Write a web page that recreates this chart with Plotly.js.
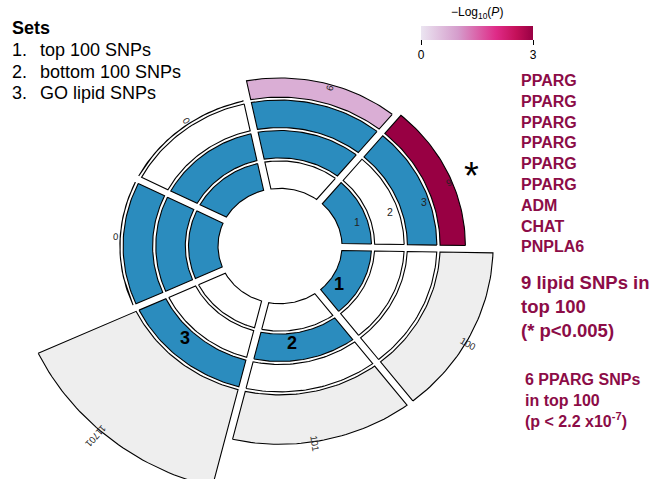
<!DOCTYPE html>
<html><head><meta charset="utf-8">
<script src="https://cdn.plot.ly/plotly-3.0.1.min.js"></script>
<style>html,body{margin:0;padding:0;background:#fff}#chart{width:652px;height:479px}</style>
</head><body><div id="chart"></div>
<script>
// ---------- DATA ----------
// Intersections, listed clockwise starting at 3 o'clock
const sectorNames = ["1", "2", "3", "1 & 2 & 3", "1 & 2", "2 & 3", "1 & 3"];
const inSet1 = [1, 0, 0, 1, 1, 0, 1];
const inSet2 = [0, 1, 0, 1, 1, 1, 0];
const inSet3 = [0, 0, 1, 1, 0, 1, 1];
const counts = [100, 101, 11701, 0, 0, 6, 9];
const countLabels = ["100", "101", "11701", "0", "0", "6", "9"];
const negLog10P = [null, null, null, null, null, 0.75, 3];
const sigMarks = ["", "", "", "", "", "", "*"];
const setNumbers = ["1", "2", "3"];
const setNames = ["top 100 SNPs", "bottom 100 SNPs", "GO lipid SNPs"];
const geneNames = ["PPARG", "PPARG", "PPARG", "PPARG", "PPARG", "PPARG", "ADM", "CHAT", "PNPLA6"];
const note1 = ["9 lipid SNPs in", "top 100", "(* p<0.005)"];
const note2 = ["6 PPARG SNPs", "in top 100", "(p < 2.2 x10<sup>-7</sup>)"];
const colorTicks = [0, 3];
const colorTitle = "\u2212Log<sub>10</sub>(<i>P</i>)";

// ---------- STYLE / GEOMETRY ----------
const W = 652, H = 479;
const CX = 280, CY = 246, YK = 0.93;      // circle centre (px) and vertical squash
const START = -1;                          // angle of first sector edge (deg)
const R0 = 62, TW = 29.5, TG = 3.2;        // track inner radius, width, gap
const BAR_SCALE = 26.5;                    // radius units per decade
const HALF_GAP = 3.7;
const BLUE = "#2B8CBE", GREY = "#EEEEEE", TXT = "#8C0C47";
const cscale = [[0, "#EBE5F1"], [0.33, "#D59DCC"], [0.67, "#DF2B88"], [0.85, "#C41059"], [1, "#980043"]];
const CMAX = 3;

function hex2rgb(h) { return [1, 3, 5].map(i => parseInt(h.substr(i, 2), 16)); }
function scaleColor(v) {
  let t = Math.max(0, Math.min(1, v / CMAX));
  for (let k = 1; k < cscale.length; k++) {
    if (t <= cscale[k][0]) {
      const [t0, c0] = cscale[k - 1], [t1, c1] = cscale[k];
      const f = (t - t0) / (t1 - t0), a = hex2rgb(c0), b = hex2rgb(c1);
      return "rgb(" + a.map((x, j) => Math.round(x + (b[j] - x) * f)).join(",") + ")";
    }
  }
  return cscale[cscale.length - 1][1];
}
const D = Math.PI / 180;
function pol(r, a) { return [r * Math.cos(a * D), r * Math.sin(a * D)]; }
function sectorPoly(a0, a1, rin, rout) {
  const xs = [], ys = [], n = 40;
  const o0 = a0 + Math.asin(HALF_GAP / rout) / D, o1 = a1 - Math.asin(HALF_GAP / rout) / D;
  const i0 = a0 + Math.asin(HALF_GAP / rin) / D, i1 = a1 - Math.asin(HALF_GAP / rin) / D;
  for (let k = 0; k <= n; k++) { const p = pol(rout, o0 + (o1 - o0) * k / n); xs.push(p[0]); ys.push(p[1]); }
  for (let k = 0; k <= n; k++) { const p = pol(rin, i1 + (i0 - i1) * k / n); xs.push(p[0]); ys.push(p[1]); }
  xs.push(xs[0]); ys.push(ys[0]);
  return { xs, ys };
}

const nS = sectorNames.length, SW = 360 / nS;
const membership = [inSet1, inSet2, inSet3];
const traces = [];
const annotations = [];
const BASE = R0 + 3 * (TW + TG);
const LBL_SIZE = 9.5;

for (let i = 0; i < nS; i++) {
  const a1 = START - i * SW, a0 = START - (i + 1) * SW, mid = (a0 + a1) / 2;
  for (let t = 0; t < 3; t++) {
    const rin = R0 + t * (TW + TG), rout = rin + TW;
    const p = sectorPoly(a0, a1, rin, rout);
    traces.push({ type: "scatter", mode: "lines", x: p.xs, y: p.ys, fill: "toself",
      fillcolor: membership[t][i] ? BLUE : "#FFFFFF", line: { color: "#000", width: 1.1 }, hoverinfo: "skip" });
  }
  const h = counts[i] > 1 ? Math.log10(counts[i]) * BAR_SCALE : 0;
  const pb = sectorPoly(a0, a1, BASE, BASE + h);
  traces.push({ type: "scatter", mode: "lines", x: pb.xs, y: pb.ys, fill: h > 0 ? "toself" : "none",
    fillcolor: negLog10P[i] == null ? GREY : scaleColor(negLog10P[i]),
    line: { color: "#000", width: 1.1 }, hoverinfo: "skip" });
  // count label, reading outward along the radius
  const len = countLabels[i].length * 0.556 * LBL_SIZE;
  const lr = h > 0 ? BASE + h - 6 + len / 2 : BASE + 4;
  const la = mid - 2.5;
  const lp = pol(lr, la);
  annotations.push({ x: lp[0], y: lp[1], xref: "x", yref: "y", text: countLabels[i], showarrow: false,
    textangle: -la, font: { size: LBL_SIZE, color: "#222" } });
  if (sigMarks[i]) {
    const sp = pol(BASE + h + 20.5, mid - 3.4);
    annotations.push({ x: sp[0], y: sp[1], xref: "x", yref: "y", text: sigMarks[i], showarrow: false,
      font: { size: 38, color: "#000" } });
  }
}
// big set labels in single-set sectors
for (let s = 0; s < 3; s++) {
  const a1 = START - s * SW, a0 = START - (s + 1) * SW;
  const r = R0 + s * (TW + TG) + TW / 2 - 5;
  const ang = (a0 + a1) / 2 - (10 / r) / D;
  const p = pol(r, ang);
  annotations.push({ x: p[0], y: p[1], xref: "x", yref: "y", text: "<b>" + setNumbers[s] + "</b>", showarrow: false,
    font: { size: 18, color: "#000" } });
}
// small track labels in the last sector
for (let s = 0; s < 3; s++) {
  const p = pol(R0 + s * (TW + TG) + TW / 2 + 4 + 2.5 * s, START + SW * 0.375);
  annotations.push({ x: p[0], y: p[1], xref: "x", yref: "y", text: setNumbers[s], showarrow: false,
    font: { size: 10.5, color: "#222" } });
}
// Sets legend
const px = (v) => v / W, py = (v) => 1 - v / H;
annotations.push({ x: px(10), y: py(28), xref: "paper", yref: "paper", xanchor: "left", yanchor: "middle",
  text: "<b>Sets</b>", showarrow: false, font: { size: 18, color: "#000" } });
for (let s = 0; s < 3; s++) {
  annotations.push({ x: px(10), y: py(50 + s * 21.7), xref: "paper", yref: "paper", xanchor: "left", yanchor: "middle",
    text: setNumbers[s] + ".", showarrow: false, font: { size: 18, color: "#000" } });
  annotations.push({ x: px(38), y: py(50 + s * 21.7), xref: "paper", yref: "paper", xanchor: "left", yanchor: "middle",
    text: setNames[s], showarrow: false, font: { size: 18, color: "#000" } });
}
// gene list and notes
annotations.push({ x: px(519), y: py(163.5), xref: "paper", yref: "paper", xanchor: "left", yanchor: "middle", align: "left",
  text: geneNames.map(g => "<b>" + g + "</b>").join("<br>"), showarrow: false, font: { size: 16, color: TXT } });
annotations.push({ x: px(519), y: py(306.5), xref: "paper", yref: "paper", xanchor: "left", yanchor: "middle", align: "left",
  text: note1.map(g => "<b>" + g + "</b>").join("<br>"), showarrow: false, font: { size: 18.5, color: TXT } });
annotations.push({ x: px(523), y: py(400), xref: "paper", yref: "paper", xanchor: "left", yanchor: "middle", align: "left",
  text: note2.map(g => "<b>" + g + "</b>").join("<br>"), showarrow: false, font: { size: 16, color: TXT } });
// colour bar title
annotations.push({ x: px(477), y: py(13), xref: "paper", yref: "paper", xanchor: "center", yanchor: "middle",
  text: colorTitle, showarrow: false, font: { size: 12, color: "#000" } });

// colour bar (dummy trace)
traces.push({ type: "scatter", mode: "markers", x: [null, null], y: [null, null], hoverinfo: "skip",
  marker: { color: colorTicks, cmin: 0, cmax: CMAX, colorscale: cscale, showscale: true,
    colorbar: { orientation: "h", x: px(477), xanchor: "center", y: py(26), yanchor: "top", yref: "paper",
      len: 112, lenmode: "pixels", thickness: 14, outlinewidth: 0, ypad: 0, xpad: 0,
      tickvals: colorTicks, ticktext: colorTicks.map(String), ticks: "outside", ticklen: 5, tickcolor: "#000",
      tickfont: { size: 12, color: "#000" } } } });

const layout = {
  width: W, height: H, margin: { l: 0, r: 0, t: 0, b: 0 }, showlegend: false,
  paper_bgcolor: "#fff", plot_bgcolor: "#fff",
  font: { family: "Liberation Sans, Arial, sans-serif" },
  xaxis: { range: [-CX, W - CX], visible: false, fixedrange: true },
  yaxis: { range: [-(H - CY) / YK, CY / YK], visible: false, fixedrange: true },
  annotations
};
Plotly.newPlot("chart", traces, layout, { staticPlot: true });
</script></body></html>
